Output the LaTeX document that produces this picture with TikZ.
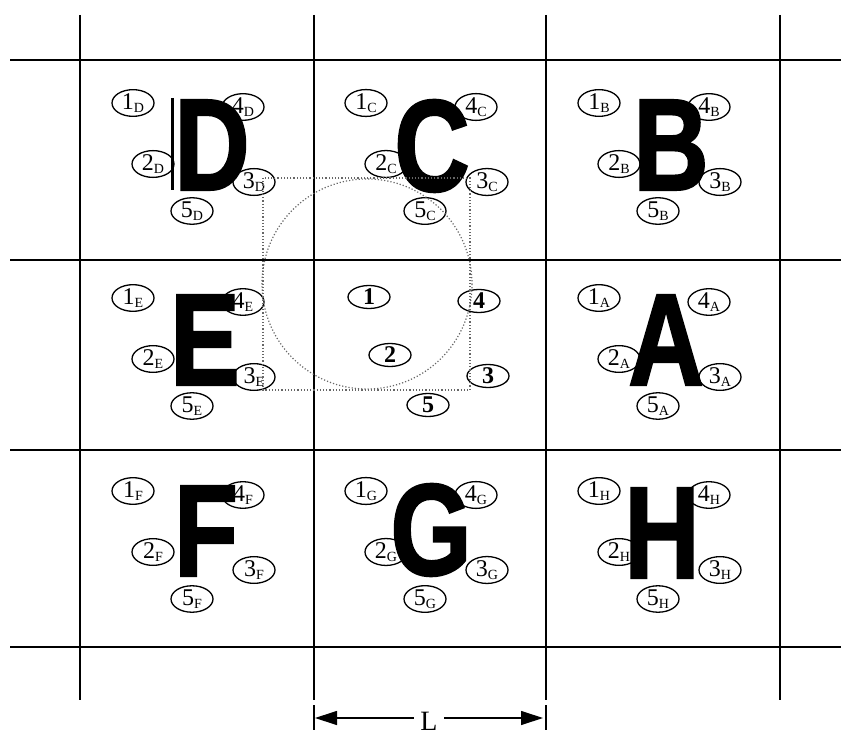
\documentclass[tikz,border=0pt]{standalone}
\usepackage{fontspec}
\setmainfont{Liberation Serif}
\newfontfamily\letterfont[FakeBold=2]{Liberation Sans}
\usepackage{graphicx}
\usetikzlibrary{positioning,arrows.meta,shapes.geometric}

\newcommand{\sub}[1]{\raisebox{-3pt}{\fontsize{14}{14}\selectfont #1}}

\begin{document}
\begin{tikzpicture}[x=1pt,y=-1pt,>={Triangle[length=22pt,width=14pt]}]
\tikzstyle{lab}=[draw,ellipse,line width=1.3pt,minimum width=42pt,minimum height=23pt,inner sep=0pt,font=\fontsize{24}{24}\selectfont]
\tikzstyle{gridline}=[line width=1.5pt]
\tikzstyle{big}=[inner sep=0pt,font=\letterfont\bfseries\fontsize{130}{130}\selectfont]
\useasboundingbox (0,0) rectangle (841,730);
% grid of cells
\foreach \x in {80,314,546,780} \draw[gridline] (\x,15) -- (\x,700);
\foreach \y in {60,260,450,647} \draw[gridline] (10,\y) -- (841,\y);
% outer cells: five labels, then the letter
\foreach \c/\cx/\cy/\lx/\ly in {D/197/160/212/145, C/430/160/432/146, B/663/160/671/145,
  E/197/355/205/340, A/663/355/666/340, F/197/548/206/531, G/430/548/431/530, H/663/548/662/533} {
  \node[lab] (n1\c) at (\cx-64,\cy-57) {1\sub{\c}};
  \node[lab] (n4\c) at (\cx+46,\cy-53) {4\sub{\c}};
  \node[lab] (n2\c) at (\cx-44,\cy+4) {2\sub{\c}};
  \node[lab] (n3\c) at (\cx+57,\cy+22) {3\sub{\c}};
  \node[lab] (n5\c) at (\cx-5,\cy+51) {5\sub{\c}};
  \node[big] (let\c) at (\lx,\ly) {\scalebox{0.8}[1]{\c}};
}
\draw[line width=3pt] (172,98) -- (172,190);
% centre cell
\node[lab,font=\fontsize{24}{24}\selectfont\bfseries] (c1) at (369,297) {1};
\node[lab,font=\fontsize{24}{24}\selectfont\bfseries] (c4) at (479,301) {4};
\node[lab,font=\fontsize{24}{24}\selectfont\bfseries] (c2) at (390,355) {2};
\node[lab,font=\fontsize{24}{24}\selectfont\bfseries] (c3) at (488,376) {3};
\node[lab,font=\fontsize{24}{24}\selectfont\bfseries] (c5) at (428,405) {5};
\draw[dotted,line width=1.2pt,gray!80!black] (263,178) rectangle (470,390);
\draw[dotted,line width=1.2pt,gray!80!black] (367,284) circle (105);
% cell size
\draw[gridline] (314,705) -- (314,730);
\draw[gridline] (546,705) -- (546,730);
\coordinate (dl) at (315,718);
\coordinate (dr) at (543,718);
\draw[<->,line width=1.2pt] (dl) -- node[fill=white,inner sep=6pt,font=\fontsize{28}{28}\selectfont,yshift=-3pt] (len) {L} (dr);
\end{tikzpicture}
\end{document}
